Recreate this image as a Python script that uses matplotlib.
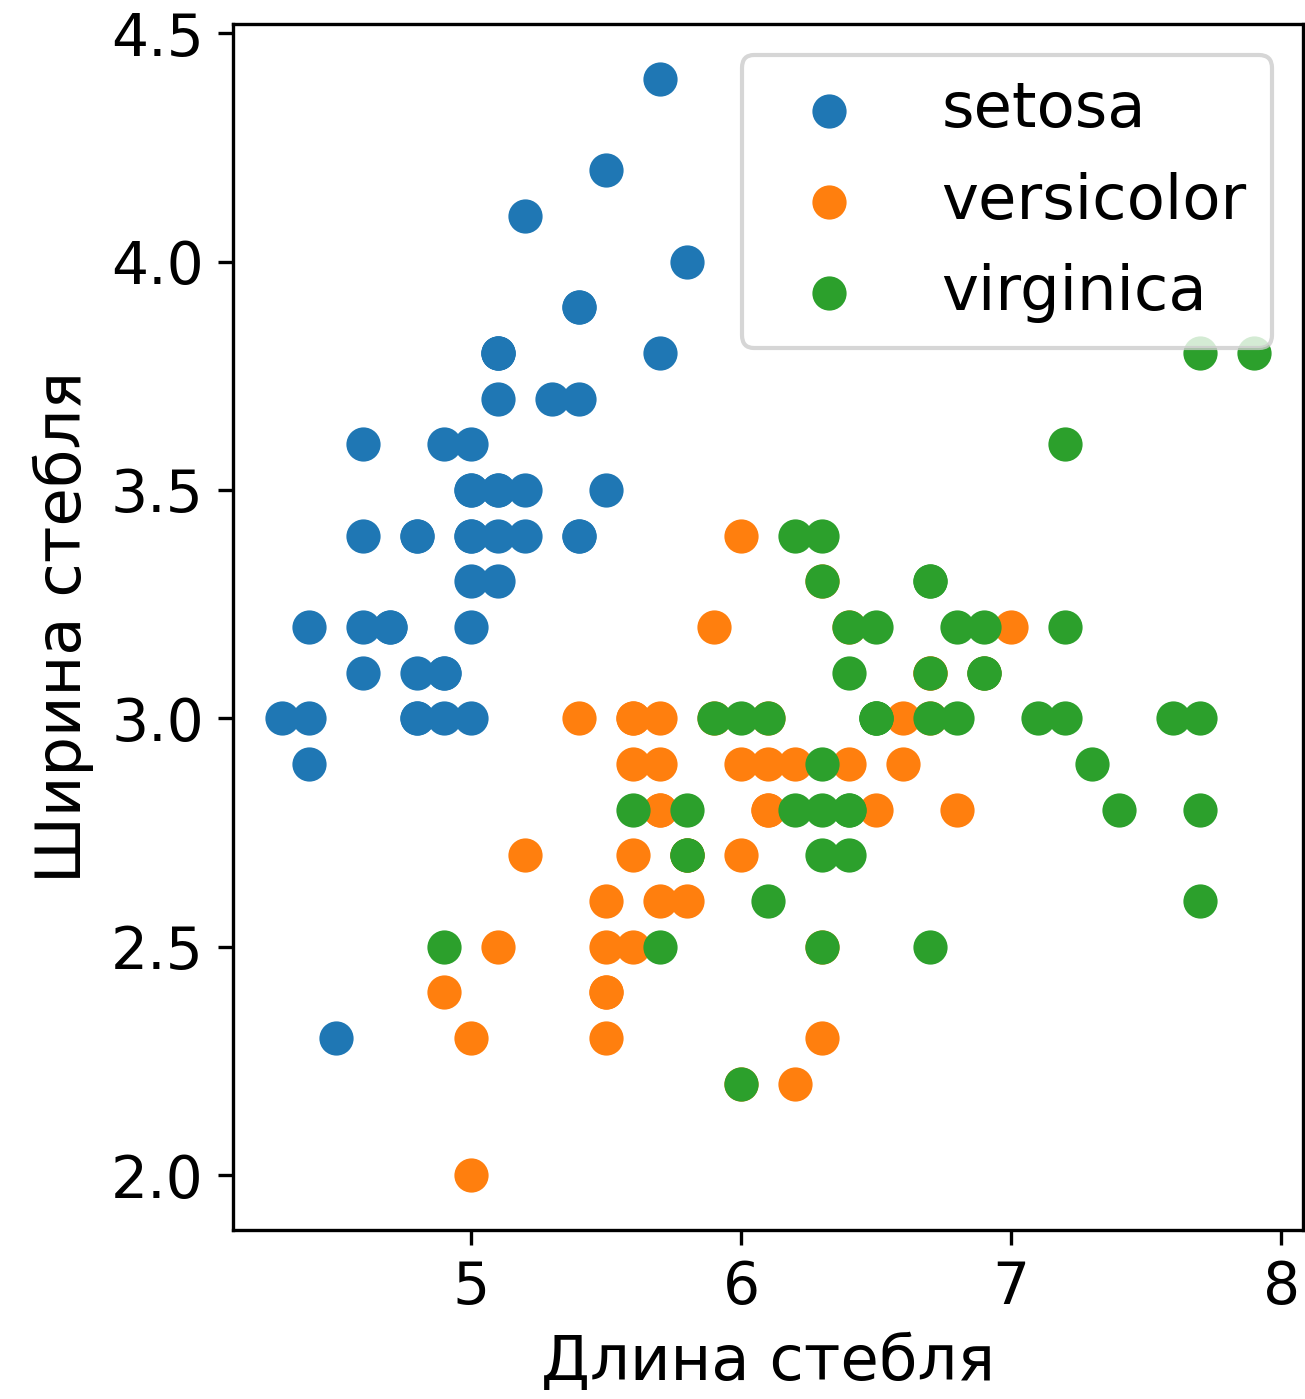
import numpy as np
import matplotlib
matplotlib.use('Agg')
import matplotlib.pyplot as plt

species = ['setosa', 'versicolor', 'virginica']

setosa_len = [5.1, 4.9, 4.7, 4.6, 5.0, 5.4, 4.6, 5.0, 4.4, 4.9, 5.4, 4.8, 4.8, 4.3, 5.8, 5.7, 5.4, 5.1, 5.7, 5.1,
              5.4, 5.1, 4.6, 5.1, 4.8, 5.0, 5.0, 5.2, 5.2, 4.7, 4.8, 5.4, 5.2, 5.5, 4.9, 5.0, 5.5, 4.9, 4.4, 5.1,
              5.0, 4.5, 4.4, 5.0, 5.1, 4.8, 5.1, 4.6, 5.3, 5.0]
setosa_wid = [3.5, 3.0, 3.2, 3.1, 3.6, 3.9, 3.4, 3.4, 2.9, 3.1, 3.7, 3.4, 3.0, 3.0, 4.0, 4.4, 3.9, 3.5, 3.8, 3.8,
              3.4, 3.7, 3.6, 3.3, 3.4, 3.0, 3.4, 3.5, 3.4, 3.2, 3.1, 3.4, 4.1, 4.2, 3.1, 3.2, 3.5, 3.6, 3.0, 3.4,
              3.5, 2.3, 3.2, 3.5, 3.8, 3.0, 3.8, 3.2, 3.7, 3.3]

versicolor_len = [7.0, 6.4, 6.9, 5.5, 6.5, 5.7, 6.3, 4.9, 6.6, 5.2, 5.0, 5.9, 6.0, 6.1, 5.6, 6.7, 5.6, 5.8, 6.2, 5.6,
                  5.9, 6.1, 6.3, 6.1, 6.4, 6.6, 6.8, 6.7, 6.0, 5.7, 5.5, 5.5, 5.8, 6.0, 5.4, 6.0, 6.7, 6.3, 5.6, 5.5,
                  5.5, 6.1, 5.8, 5.0, 5.6, 5.7, 5.7, 6.2, 5.1, 5.7]
versicolor_wid = [3.2, 3.2, 3.1, 2.3, 2.8, 2.8, 3.3, 2.4, 2.9, 2.7, 2.0, 3.0, 2.2, 2.9, 2.9, 3.1, 3.0, 2.7, 2.2, 2.5,
                  3.2, 2.8, 2.5, 2.8, 2.9, 3.0, 2.8, 3.0, 2.9, 2.6, 2.4, 2.4, 2.7, 2.7, 3.0, 3.4, 3.1, 2.3, 3.0, 2.5,
                  2.6, 3.0, 2.6, 2.3, 2.7, 3.0, 2.9, 2.9, 2.5, 2.8]

virginica_len = [6.3, 5.8, 7.1, 6.3, 6.5, 7.6, 4.9, 7.3, 6.7, 7.2, 6.5, 6.4, 6.8, 5.7, 5.8, 6.4, 6.5, 7.7, 7.7, 6.0,
                 6.9, 5.6, 7.7, 6.3, 6.7, 7.2, 6.2, 6.1, 6.4, 7.2, 7.4, 7.9, 6.4, 6.3, 6.1, 7.7, 6.3, 6.4, 6.0, 6.9,
                 6.7, 6.9, 5.8, 6.8, 6.7, 6.7, 6.3, 6.5, 6.2, 5.9]
virginica_wid = [3.3, 2.7, 3.0, 2.9, 3.0, 3.0, 2.5, 2.9, 2.5, 3.6, 3.2, 2.7, 3.0, 2.5, 2.8, 3.2, 3.0, 3.8, 2.6, 2.2,
                 3.2, 2.8, 2.8, 2.7, 3.3, 3.2, 2.8, 3.0, 2.8, 3.0, 2.8, 3.8, 2.8, 2.8, 2.6, 3.0, 3.4, 3.1, 3.0, 3.1,
                 3.1, 3.1, 2.7, 3.2, 3.3, 3.0, 2.5, 3.0, 3.4, 3.0]

lengths = [setosa_len, versicolor_len, virginica_len]
widths = [setosa_wid, versicolor_wid, virginica_wid]

fig = plt.figure(figsize=(1305/300, 1399/300), dpi=300)
ax = fig.add_axes([233/1305, (1399-1230)/1399, 1070/1305, 1206/1399])

for name, x, y in zip(species, lengths, widths):
    ax.scatter(x, y, s=52, label=name)

ax.tick_params(labelsize=14)
ax.set_xlabel('Длина стебля', fontsize=15)
ax.set_ylabel('Ширина стебля', fontsize=15)
ax.legend(loc='upper right', fontsize=15)

fig.savefig('out.png', dpi=300)
